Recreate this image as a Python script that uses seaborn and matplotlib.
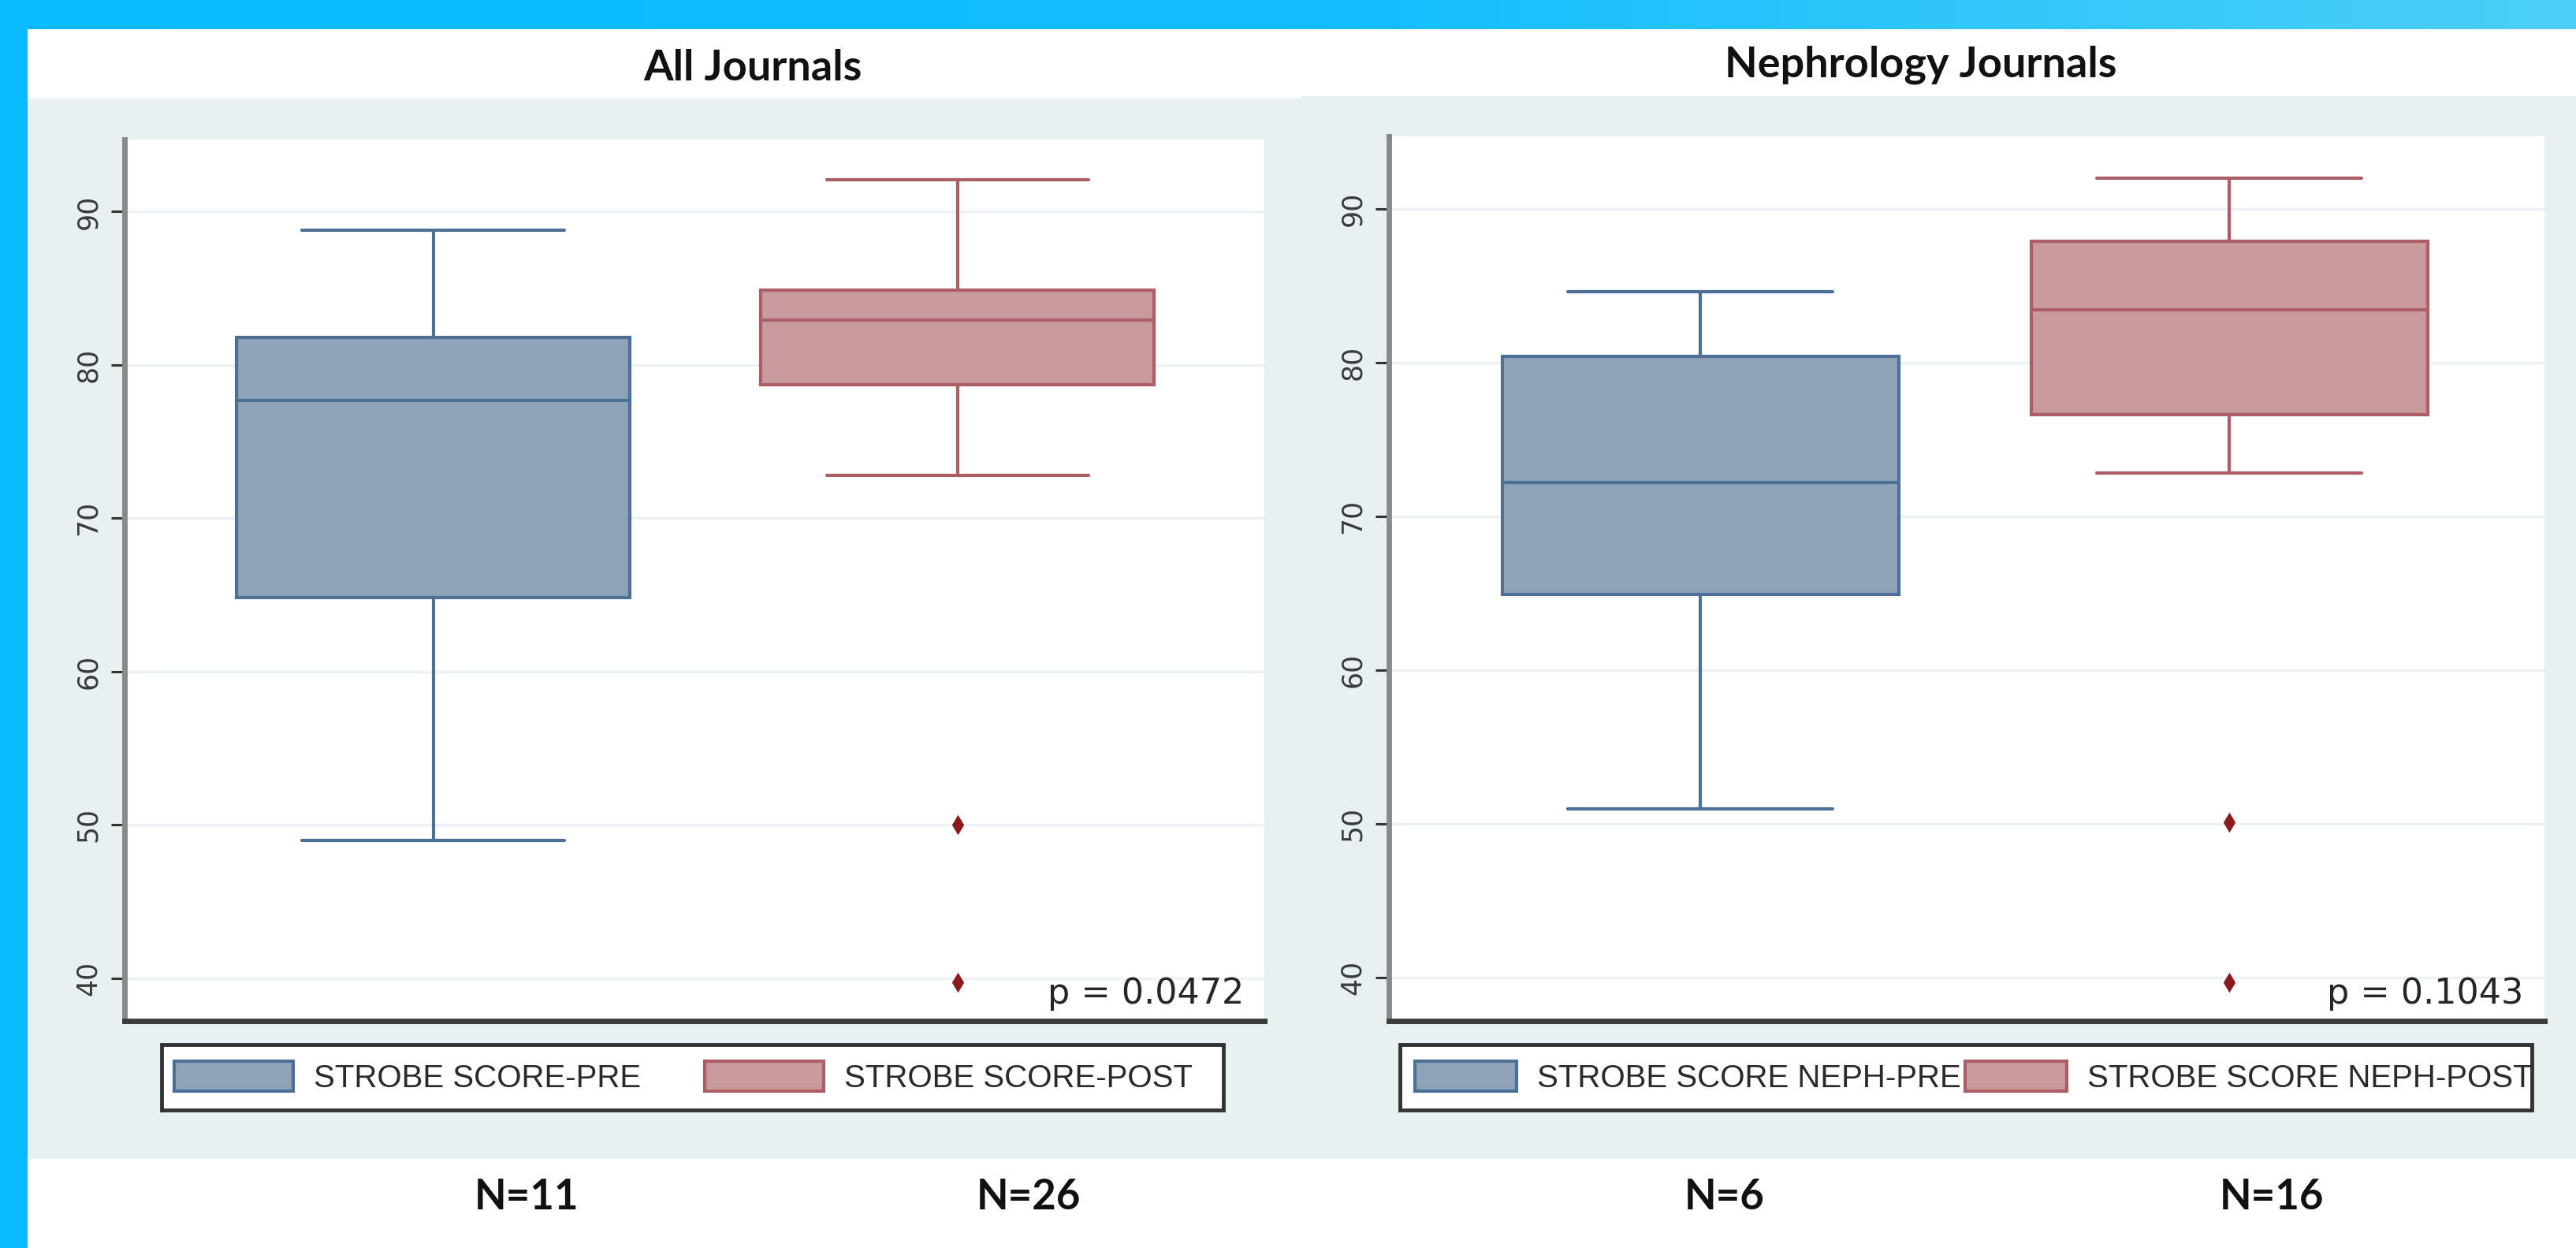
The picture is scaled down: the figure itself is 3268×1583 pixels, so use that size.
import pandas as pd
import seaborn as sns
import matplotlib.pyplot as plt
from matplotlib.patches import Rectangle, Patch
from matplotlib.colors import LinearSegmentedColormap
import numpy as np

# Box summaries: lower whisker, Q1, median, Q3, upper whisker
all_pre = [49.0, 64.8, 77.7, 81.8, 88.8]
all_post = [72.8, 78.7, 82.9, 84.9, 92.1]
neph_pre = [51.0, 64.9, 72.2, 80.4, 84.6]
neph_post = [72.8, 76.6, 83.4, 87.9, 92.0]

# outside values of the POST groups
all_post_outliers = [50.0, 39.7]
neph_post_outliers = [50.1, 39.7]

all_labels = ['STROBE SCORE-PRE', 'STROBE SCORE-POST']
neph_labels = ['STROBE SCORE NEPH-PRE', 'STROBE SCORE NEPH-POST']
all_counts = ['N=11', 'N=26']
neph_counts = ['N=6', 'N=16']
p_values = ['p = 0.0472', 'p = 0.1043']
titles = ['All Journals', 'Nephrology Journals']
yticks = [40, 50, 60, 70, 80, 90]

fills = ['#8ea3b8', '#c89a9e']
edges = ['#4d7096', '#ad5e65']
outlier_color = '#8b1a1f'

sns.set_style('white')
plt.rcParams['font.family'] = ['Liberation Sans', 'DejaVu Sans']

W, H = 3268, 1583
fig = plt.figure(figsize=(W / 100, H / 100), dpi=100)
fig.patch.set_facecolor('white')


def frac(x0, y0, x1, y1):
    # pixel box (top-left origin) -> figure fraction rect
    return [x0 / W, 1 - y1 / H, (x1 - x0) / W, (y1 - y0) / H]


# background: blue frame + grey panels
bg = fig.add_axes([0, 0, 1, 1], zorder=-10)
band = LinearSegmentedColormap.from_list('band', ['#08bbff', '#10bdff', '#4ccff5'])
bg.imshow(np.linspace(0, 1, 256)[None, :], cmap=band, aspect='auto',
          extent=(0, W, 37, 0))
bg.add_patch(Rectangle((0, 0), 35, H, color='#08bbff', lw=0))
bg.add_patch(Rectangle((35, 125), 1617, 1345, color='#e8f0f2', lw=0))
bg.add_patch(Rectangle((1650, 122), 1618, 1348, color='#e8f0f2', lw=0))
bg.set_xlim(0, W)
bg.set_ylim(H, 0)
bg.axis('off')

panels = [
    dict(rect=(158, 177, 1604, 1295), labels=all_labels, pre=all_pre, post=all_post,
         outliers=all_post_outliers, counts=all_counts, count_x=[668, 1305],
         title_x=955, title_y=86, leg=(205, 1325, 1552, 1408), swatch_x=221,
         handlelength=3.75, colspace=2.0, xlim=(-0.589, 1.585)),
    dict(rect=(1762, 173, 3228, 1295), labels=neph_labels, pre=neph_pre, post=neph_post,
         outliers=neph_post_outliers, counts=neph_counts, count_x=[2188, 2882],
         title_x=2437, title_y=82, leg=(1776, 1325, 3212, 1408), swatch_x=1795,
         handlelength=3.2, colspace=0.12, xlim=(-0.589, 1.596)),
]

for i, pn in enumerate(panels):
    ax = fig.add_axes(frac(*pn['rect']))
    ax.set_facecolor('white')
    labels = pn['labels']
    df = pd.DataFrame({
        'group': [labels[0]] * len(pn['pre']) + [labels[1]] * len(pn['post']),
        'score': pn['pre'] + pn['post'],
    })
    for label, fc, ec in zip(labels, fills, edges):
        sns.boxplot(data=df[df['group'] == label], x='group', y='score', order=labels,
                    color=fc, linecolor=ec, linewidth=3, width=0.75, saturation=1,
                    whis=1.5, capwidths=0.5, ax=ax)
    out = pd.DataFrame({'group': [labels[1]] * len(pn['outliers']),
                        'score': pn['outliers']})
    sns.stripplot(data=out, x='group', y='score', order=labels, jitter=False,
                  marker='d', size=13, color=outlier_color, linewidth=0, ax=ax, zorder=5)

    ax.set_xlim(*pn['xlim'])
    ax.set_ylim(37.2, 94.7)
    ax.set_xticks([])
    ax.set_xlabel('')
    ax.set_ylabel('')
    ax.set_yticks(yticks)
    ax.set_yticklabels([str(t) for t in yticks], rotation=90, va='center',
                       family='DejaVu Sans')
    ax.tick_params(axis='y', left=True, length=12, width=2.2, color='#333333',
                   labelsize=25, labelcolor='#3a3a3a', pad=9)
    ax.grid(axis='y', color='#edf3f5', linewidth=2.5)
    ax.set_axisbelow(True)
    for side in ['top', 'right']:
        ax.spines[side].set_visible(False)
    ax.spines['left'].set_color('#8a8a8a')
    ax.spines['left'].set_linewidth(5)
    ax.spines['bottom'].set_color('#3c3c3c')
    ax.spines['bottom'].set_linewidth(5)

    ax.text(0.982, 0.02, p_values[i], transform=ax.transAxes, ha='right', va='baseline',
            fontsize=32, color='#262626', family='DejaVu Sans')

    # legend: frame drawn as its own box so long labels can run past it, as in the original
    x0, y0, x1, y1 = pn['leg']
    bg.add_patch(Rectangle((x0, y0), x1 - x0, y1 - y0, facecolor='white',
                           edgecolor='#333333', lw=3.5))
    handles = [Patch(facecolor=fc, edgecolor=ec, linewidth=3) for fc, ec in zip(fills, edges)]
    ax.legend(handles, labels, loc='center left', ncol=2,
              bbox_to_anchor=(pn['swatch_x'] / W, 1 - (y0 + y1) / 2 / H),
              bbox_transform=fig.transFigure, borderaxespad=0, borderpad=0,
              frameon=False, fontsize=29, labelcolor='#2a2a2a',
              handlelength=pn['handlelength'], handleheight=1.05, handletextpad=0.65,
              columnspacing=pn['colspace'])

    fig.text(pn['title_x'] / W, 1 - pn['title_y'] / H, titles[i], ha='center', va='center',
             fontsize=39, fontweight='bold', family='Lato', color='#111111')
    for cx, txt in zip(pn['count_x'], pn['counts']):
        fig.text(cx / W, 1 - 1518 / H, txt, ha='center', va='center', fontsize=38,
                 fontweight='bold', family='Lato', color='#111111')

fig.savefig('out.png', dpi=100)
